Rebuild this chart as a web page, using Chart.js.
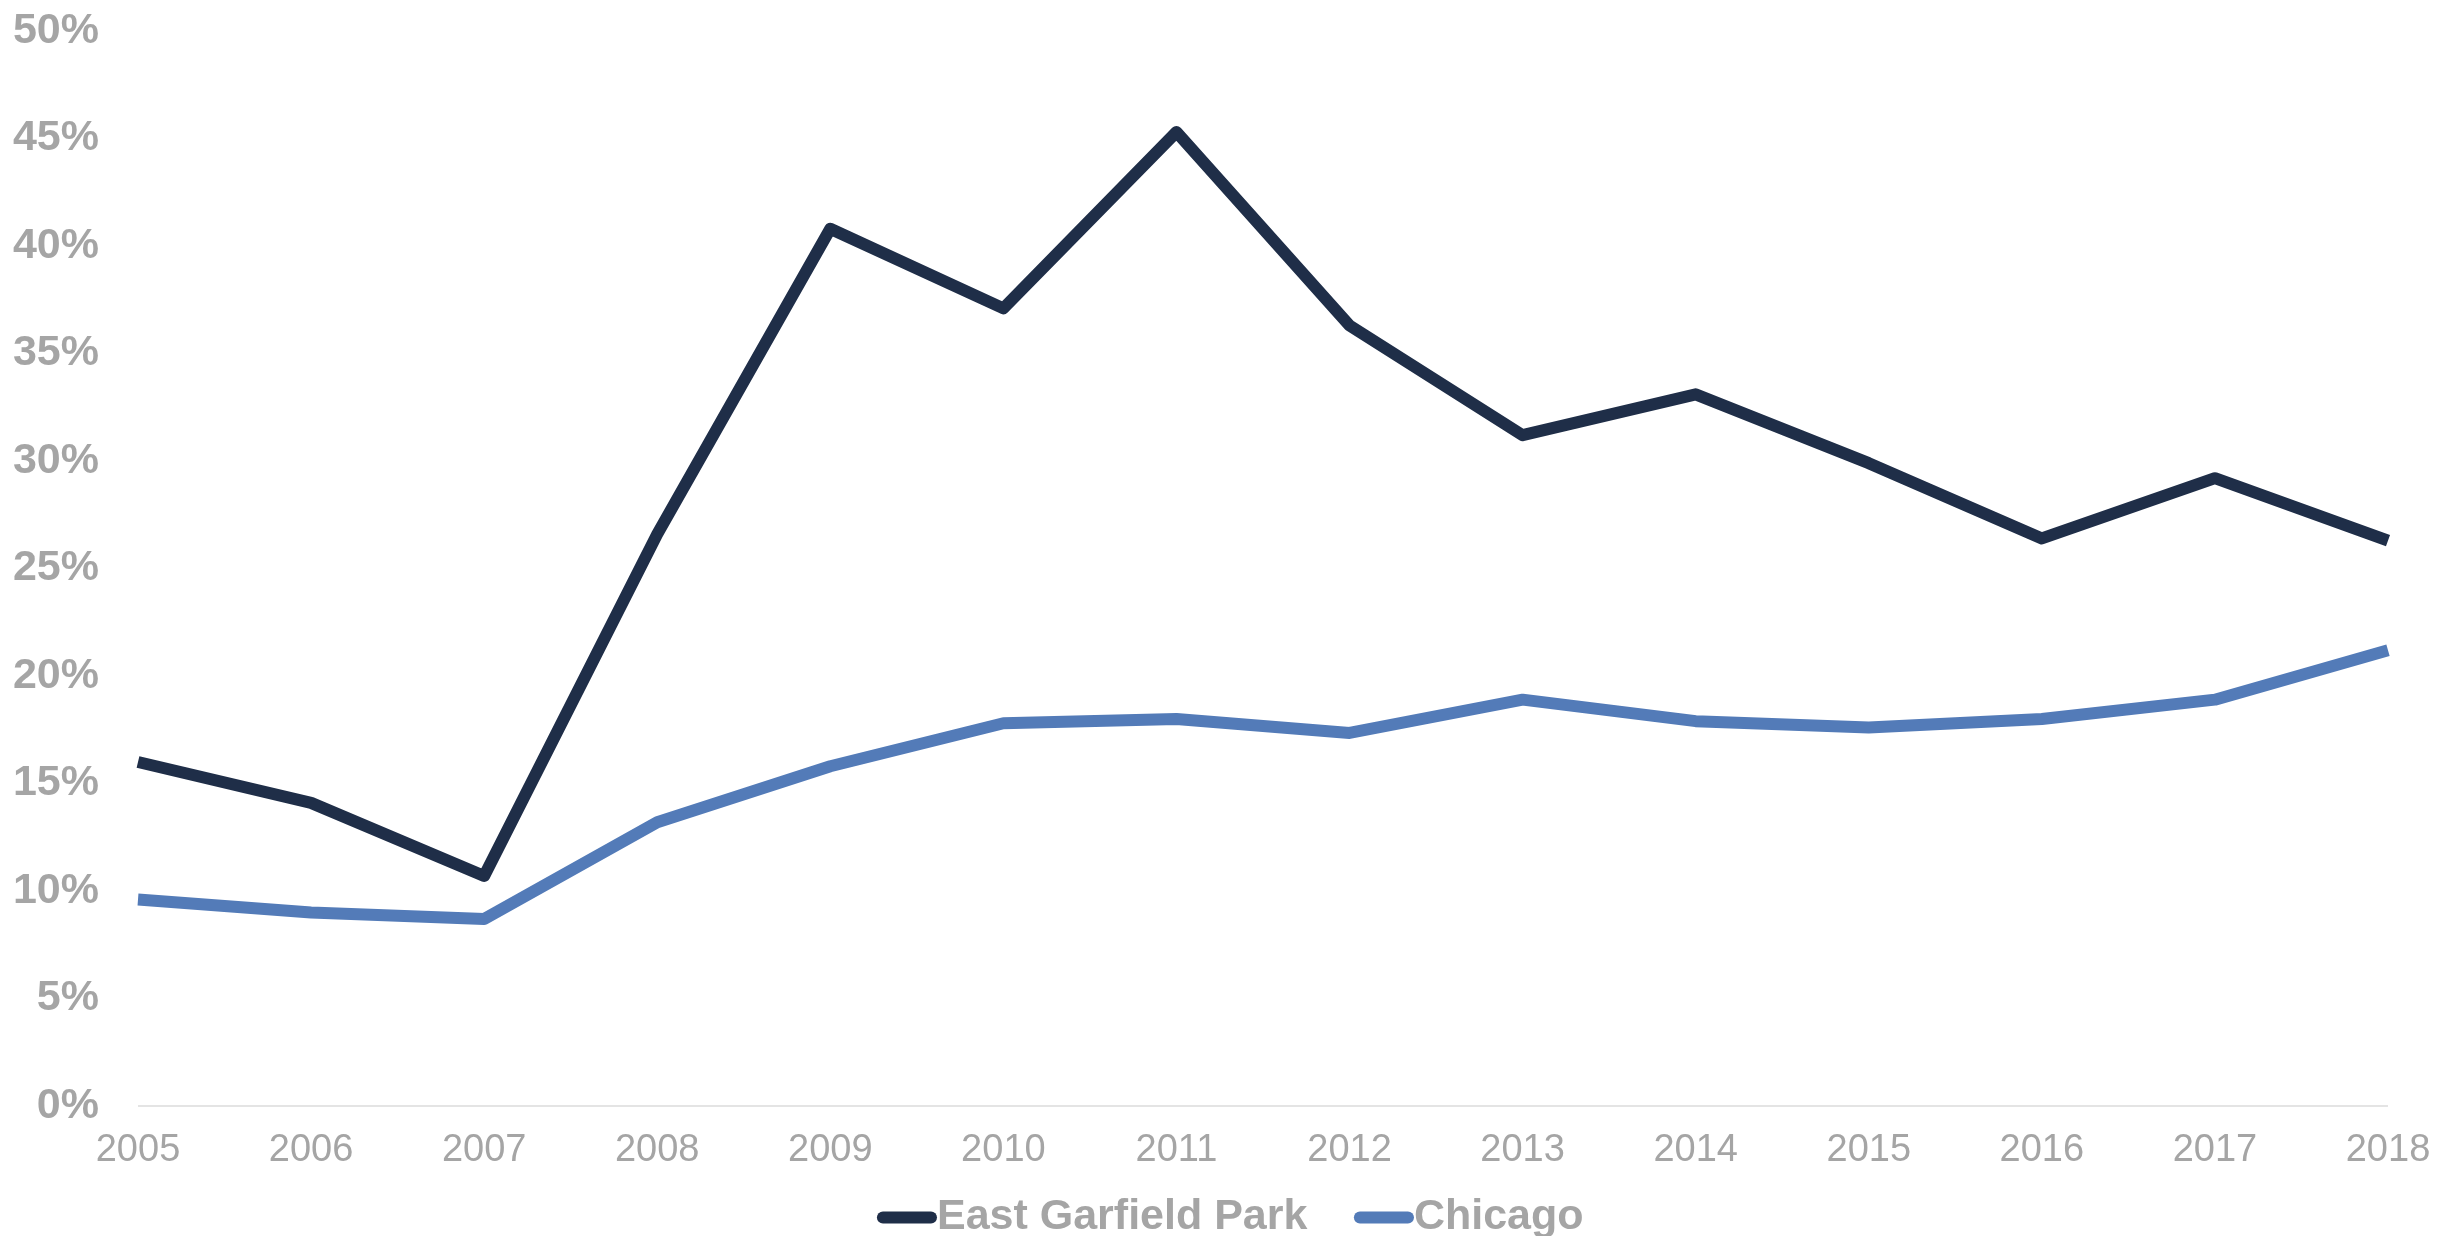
<!DOCTYPE html>
<html>
<head>
<meta charset="utf-8">
<script src="https://cdn.jsdelivr.net/npm/chart.js@4"></script>
<style>
    html, body { margin: 0; padding: 0; background: #fff; }
    #wrap { width: 2460px; height: 1236px; position: relative; }
</style>
</head>
<body>
<div id="wrap"><canvas id="chart-rate"></canvas></div>
<script>
// Chart data
const years = ['2005', '2006', '2007', '2008', '2009', '2010', '2011', '2012', '2013', '2014', '2015', '2016', '2017', '2018'];
const eastGarfieldPark = [16.0, 14.1, 10.7, 26.6, 40.8, 37.1, 45.3, 36.3, 31.2, 33.1, 29.9, 26.4, 29.2, 26.3];
const chicago = [9.6, 9.0, 8.7, 13.2, 15.8, 17.8, 18.0, 17.35, 18.9, 17.9, 17.6, 18.0, 18.9, 21.2];
const yTicks = [0, 5, 10, 15, 20, 25, 30, 35, 40, 45, 50];

const labelGray = '#a5a5a5';
const fontFamily = 'Liberation Sans, Arial, sans-serif';

// legend padding is big (for the gap between items), so pull the box back up
const legendNudge = {
    id: 'legendNudge',
    afterLayout(chart) {
        const lg = chart.legend;
        lg.top -= 42;
        lg.bottom -= 42;
        lg.left += 47;
        lg.right += 47;
    }
};

document.addEventListener('DOMContentLoaded', () => {
    const ctx = document.getElementById('chart-rate').getContext('2d');
    new Chart(ctx, {
        type: 'line',
        data: {
            labels: years,
            datasets: [
                {
                    label: 'East Garfield Park',
                    data: eastGarfieldPark,
                    borderColor: '#1f2e48',
                    backgroundColor: '#1f2e48',
                    borderWidth: 12,
                    borderJoinStyle: 'round',
                    pointRadius: 0,
                    tension: 0
                },
                {
                    label: 'Chicago',
                    data: chicago,
                    borderColor: '#537bb8',
                    backgroundColor: '#537bb8',
                    borderWidth: 12,
                    borderJoinStyle: 'round',
                    pointRadius: 0,
                    tension: 0
                }
            ]
        },
        options: {
            responsive: true,
            maintainAspectRatio: false,
            animation: false,
            layout: { padding: { top: 31, left: 0, right: 72, bottom: -55 } },
            plugins: {
                tooltip: { enabled: false },
                legend: {
                    position: 'bottom',
                    labels: {
                        color: labelGray,
                        font: { family: fontFamily, size: 43, weight: 'bold' },
                        // line marker that runs right up to the text, like the original
                        usePointStyle: true,
                        pointStyle: 'line',
                        boxWidth: 17,
                        boxHeight: 34,
                        padding: 68,
                        generateLabels: (chart) => {
                            const items = Chart.defaults.plugins.legend.labels.generateLabels(chart);
                            items.forEach(it => { it.lineCap = 'round'; });
                            return items;
                        }
                    }
                }
            },
            scales: {
                x: {
                    offset: false,
                    grid: { display: false, drawTicks: false },
                    border: { display: false },
                    afterFit: (axis) => { axis.height = 64; },
                    ticks: {
                        color: labelGray,
                        padding: 22,
                        maxRotation: 0,
                        autoSkip: false,
                        font: { family: fontFamily, size: 38 }
                    }
                },
                y: {
                    min: 0,
                    max: 50,
                    afterBuildTicks: (axis) => { axis.ticks = yTicks.map(v => ({ value: v })); },
                    afterFit: (axis) => {
                        axis.width = 138;
                        axis.paddingTop = 0;
                        axis.paddingBottom = 0;
                    },
                    grid: {
                        drawTicks: false,
                        lineWidth: 2,
                        color: (c) => (c.tick && c.tick.value === 0 ? '#e4e4e4' : 'rgba(0,0,0,0)')
                    },
                    border: { display: false },
                    ticks: {
                        color: labelGray,
                        padding: 39,
                        font: { family: fontFamily, size: 43, weight: 'bold' },
                        callback: (v) => v + '%'
                    }
                }
            }
        },
        plugins: [legendNudge]
    });
});
</script>
</body>
</html>
